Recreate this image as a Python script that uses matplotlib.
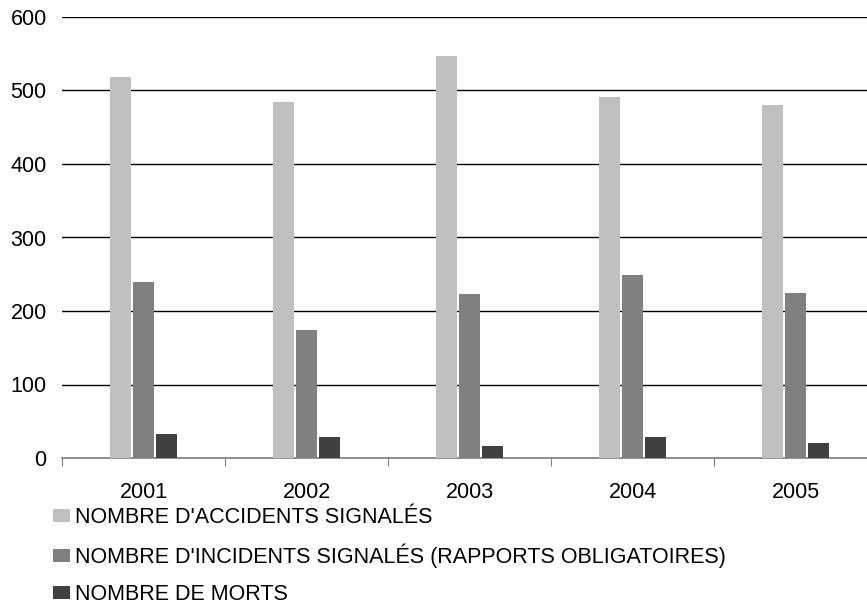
import matplotlib.pyplot as plt
import numpy as np

plt.rcParams.update({
    "font.family": ["Liberation Sans", "DejaVu Sans"],
    "font.size": 15.5,
})

years = ["2001", "2002", "2003", "2004", "2005"]
accidents = [519, 484, 547, 491, 480]
incidents = [239, 174, 223, 249, 225]
morts = [33, 28, 17, 28, 20]

labels = ["NOMBRE D'ACCIDENTS SIGNALÉS",
          "NOMBRE D'INCIDENTS SIGNALÉS (RAPPORTS OBLIGATOIRES)",
          "NOMBRE DE MORTS"]
colors = ["#c0c0c0", "#808080", "#404040"]

bar_width = 0.123
step = 0.141

fig = plt.figure(figsize=(8.67, 6.07), dpi=100)
ax = fig.add_axes([62 / 867, 1 - 458 / 607, 815 / 867, 441 / 607])

x = np.arange(len(years))
for i, (vals, c, lab) in enumerate(zip([accidents, incidents, morts], colors, labels)):
    ax.bar(x + (i - 1) * step, vals, bar_width, color=c, label=lab, zorder=3)

ax.set_xlim(-0.5, len(years) - 0.5)
ax.set_ylim(0, 600)
ax.set_yticks(range(0, 601, 100))
ax.grid(True, axis='y', color='black', linewidth=1, zorder=0)
# category boundaries as major ticks, year names as minor ones
ax.set_xticks(np.arange(len(years) + 1) - 0.5, minor=False)
ax.set_xticklabels([])
ax.set_xticks(x, years, minor=True)
ax.tick_params(axis='x', which='major', length=6, color='#808080', direction='out')
ax.tick_params(axis='x', which='minor', length=0, pad=17)
ax.tick_params(axis='y', length=0, pad=11)
for s in ["top", "right", "left"]:
    ax.spines[s].set_visible(False)
ax.spines["bottom"].set_color('#808080')
ax.spines["bottom"].set_linewidth(1.2)

fig.legend(loc='upper left', bbox_to_anchor=(53 / 867, 1 - 507 / 607),
           frameon=False, handlelength=0.79, handleheight=0.6, handletextpad=0.23,
           labelspacing=0.73, borderaxespad=0, borderpad=0)

plt.savefig("out.png", dpi=100)
